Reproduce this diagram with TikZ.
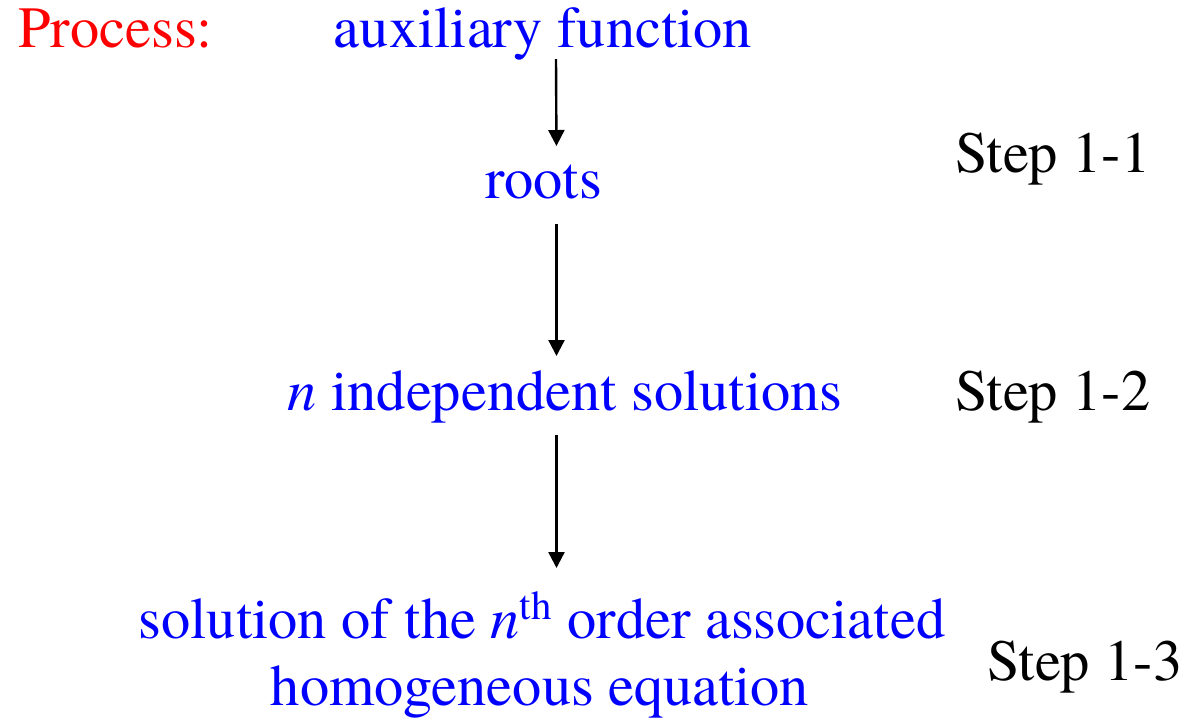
\documentclass[tikz,border=0pt]{standalone}
\usepackage{fontspec}
\setmainfont{texgyretermes}[Extension=.otf, UprightFont=*-regular, ItalicFont=*-italic, BoldFont=*-bold]
\usetikzlibrary{arrows.meta}
\tikzset{
  lbl/.style={blue, anchor=base, inner sep=0pt, text height=21.9pt, text depth=5.8pt},
  steplbl/.style={black, anchor=base west, inner sep=0pt},
  arr/.style={-{Triangle[width=8pt,length=8pt]}, line width=1.2pt},
}
\begin{document}
\begin{tikzpicture}[x=0.5pt, y=-0.5pt, font=\rmfamily\fontsize{29.2}{35}\selectfont]
    \useasboundingbox (0,0) rectangle (1184,720);

    % title
    \node[red, anchor=base west, inner sep=0pt] (proc) at (18,47) {Process:};

    % chain of the process
    \node[lbl] (aux) at (543,47) {auxiliary function};
    \node[lbl] (roots) at (543.5,198) {roots};
    \node[lbl] (indep) at (565,410) {\textit{n} independent solutions};
    \node[lbl] (sola) at (542,638) {solution of the \textit{n}\textsuperscript{th} order associated};
    \node[lbl] (solb) at (540,705) {homogeneous equation};

    % steps
    \node[steplbl] (s11) at (955,172) {Step 1-1};
    \node[steplbl] (s12) at (955,410) {Step 1-2};
    \node[steplbl] (s13) at (987,680) {Step 1-3};

    % arrows
    \draw[arr, shorten >=3.9pt] ([xshift=6.5pt]aux.south) -- ([xshift=6.5pt]roots.north);
    \draw[arr, shorten <=7.2pt, shorten >=4.9pt] ([xshift=6.5pt]roots.south) -- ([xshift=6.5pt]roots.south |- indep.north);
    \draw[arr, shorten <=6.7pt, shorten >=12.9pt] ([xshift=6.5pt]roots.south |- indep.south) -- ([xshift=6.5pt]roots.south |- sola.north);
\end{tikzpicture}
\end{document}
